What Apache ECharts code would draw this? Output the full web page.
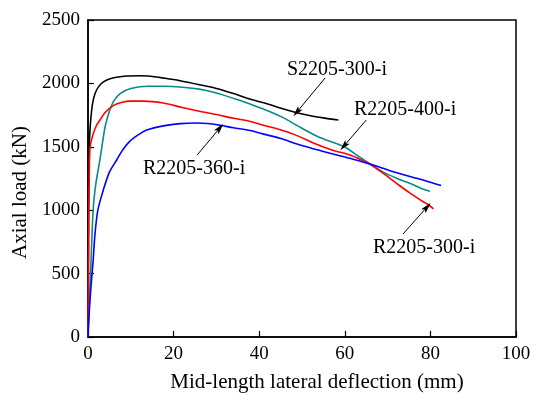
<!DOCTYPE html>
<html>
<head>
<meta charset="utf-8">
<script src="https://cdn.jsdelivr.net/npm/echarts@6/dist/echarts.min.js"></script>
<style>html,body{margin:0;padding:0;background:#fff}#c{width:542px;height:400px}</style>
</head>
<body>
<div id="c"></div>
<script>
var xTicks = [0, 20, 40, 60, 80, 100];
var yTicks = [0, 500, 1000, 1500, 2000, 2500];

var seriesNames = ['S2205-300-i', 'R2205-400-i', 'R2205-300-i', 'R2205-360-i'];

var s2205_300 = [[0,0],[0.1,600],[0.15,1200],[0.3,1500],[0.5,1650],[0.86,1790],[1.3,1880],[2,1948],[3,1995],[4.4,2027],[6,2045],[9,2058],[12,2060],[14,2058],[18,2040],[21.5,2021],[26,1990],[30,1960],[34,1920],[38,1875],[42,1838],[44.9,1806],[48.8,1769],[52,1745],[55,1728],[58.5,1711]];

var r2205_400 = [[0,0],[0.2,200],[0.6,500],[1.2,1000],[1.8,1200],[2.8,1400],[4,1658],[5,1780],[6,1860],[7.5,1920],[10,1960],[14,1978],[18,1978],[22,1970],[26,1955],[30,1925],[34.7,1875],[38,1835],[42,1785],[45.6,1730],[49,1665],[53.4,1585],[56,1550],[59.9,1500],[63,1430],[66,1362],[69,1300],[72.1,1252],[76,1200],[78,1170],[79.9,1150]];

var r2205_300 = [[0,0],[0.05,300],[0.15,800],[0.2,1000],[0.3,1300],[0.5,1500],[1.2,1600],[2,1670],[2.8,1711],[4,1770],[5.9,1825],[8,1852],[10,1860],[13,1860],[17.6,1845],[22,1810],[25.4,1785],[30,1755],[34,1725],[37.9,1700],[41,1670],[44.9,1635],[48,1600],[53.4,1520],[57,1475],[61.2,1435],[64,1395],[66,1362],[69,1290],[72.1,1212],[75,1140],[78.3,1067],[79.5,1045],[80.7,1010]];

var r2205_360 = [[0,0],[0.3,200],[0.7,400],[1.2,600],[1.6,800],[2.3,1000],[3.5,1150],[5,1300],[6.7,1396],[8,1470],[9.8,1545],[12,1600],[13.7,1632],[17.6,1665],[21.5,1683],[25.4,1688],[28,1684],[30.8,1670],[34,1650],[37.9,1628],[41,1600],[44.9,1567],[49,1520],[53.4,1478],[57,1445],[61.2,1409],[66,1362],[69,1330],[72.1,1296],[76.8,1252],[80,1220],[82.5,1195]];

// annotation arrows: [from, to] in data units
var arrowS300 = [[55.4, 2043], [48.8, 1774]];
var arrowR400 = [[65.0, 1711], [59.8, 1506]];
var arrowR300 = [[73.6, 812], [79.2, 1025]];
var arrowR360 = [[25.5, 1435], [30.8, 1648]];

var FONT = "'Liberation Serif','Times New Roman',serif";

function arrowMark(a) {
  return {
    silent: true,
    symbol: ['none', 'path://M0,0 L5,14 L0,11 L-5,14 Z'],
    symbolSize: [6, 11],
    label: {show: false},
    lineStyle: {color: '#000', width: 1, type: 'solid'},
    itemStyle: {color: '#000'},
    emphasis: {disabled: true},
    data: [[{coord: a[0]}, {coord: a[1]}]]
  };
}

function mk(name, data, color, arrow) {
  return {
    name: name, type: 'line', data: data, showSymbol: false, smooth: 0.3,
    lineStyle: {color: color, width: 1.6},
    itemStyle: {color: color},
    animation: false,
    markLine: arrowMark(arrow)
  };
}

var chart = echarts.init(document.getElementById('c'));
chart.setOption({
  animation: false,
  backgroundColor: '#fff',
  grid: {left: 88, right: 26, top: 20, bottom: 63, containLabel: false, outerBoundsMode: 'none', show: true, borderColor: '#000', borderWidth: 1.5, backgroundColor: 'transparent'},
  xAxis: {
    type: 'value', min: xTicks[0], max: xTicks[xTicks.length - 1], interval: 20,
    name: 'Mid-length lateral deflection (mm)', nameLocation: 'middle', nameGap: 35,
    nameTextStyle: {fontFamily: FONT, fontSize: 21, color: '#000', padding: [0, 0, 0, 30]},
    axisLine: {lineStyle: {color: '#000', width: 1.5}},
    axisTick: {inside: true, length: 6, lineStyle: {color: '#000', width: 1.2}},
    axisLabel: {fontFamily: FONT, fontSize: 19, color: '#000', margin: 8, formatter: function (v) { return String(v); }},
    splitLine: {show: false}
  },
  yAxis: {
    type: 'value', min: yTicks[0], max: yTicks[yTicks.length - 1], interval: 500,
    name: 'Axial load (kN)', nameLocation: 'middle', nameGap: 48,
    nameTextStyle: {fontFamily: FONT, fontSize: 21, color: '#000', padding: [0, 28, 0, 0]},
    axisLine: {lineStyle: {color: '#000', width: 1.5}},
    axisTick: {inside: true, length: 6, lineStyle: {color: '#000', width: 1.2}},
    axisLabel: {fontFamily: FONT, fontSize: 19, color: '#000', margin: 8, formatter: function (v) { return String(v); }},
    splitLine: {show: false}
  },
  series: [
    mk(seriesNames[0], s2205_300, '#000000', arrowS300),
    mk(seriesNames[1], r2205_400, '#0a8a86', arrowR400),
    mk(seriesNames[2], r2205_300, '#ff0000', arrowR300),
    mk(seriesNames[3], r2205_360, '#0000ff', arrowR360)
  ],
  graphic: [
    {type: 'text', left: 287, top: 60, style: {text: seriesNames[0], font: "20px " + FONT, fill: '#000'}},
    {type: 'text', left: 354, top: 100, style: {text: seriesNames[1], font: "20px " + FONT, fill: '#000'}},
    {type: 'text', left: 373, top: 238, style: {text: seriesNames[2], font: "20px " + FONT, fill: '#000'}},
    {type: 'text', left: 143, top: 159, style: {text: seriesNames[3], font: "20px " + FONT, fill: '#000'}}
  ]
});
</script>
</body>
</html>
